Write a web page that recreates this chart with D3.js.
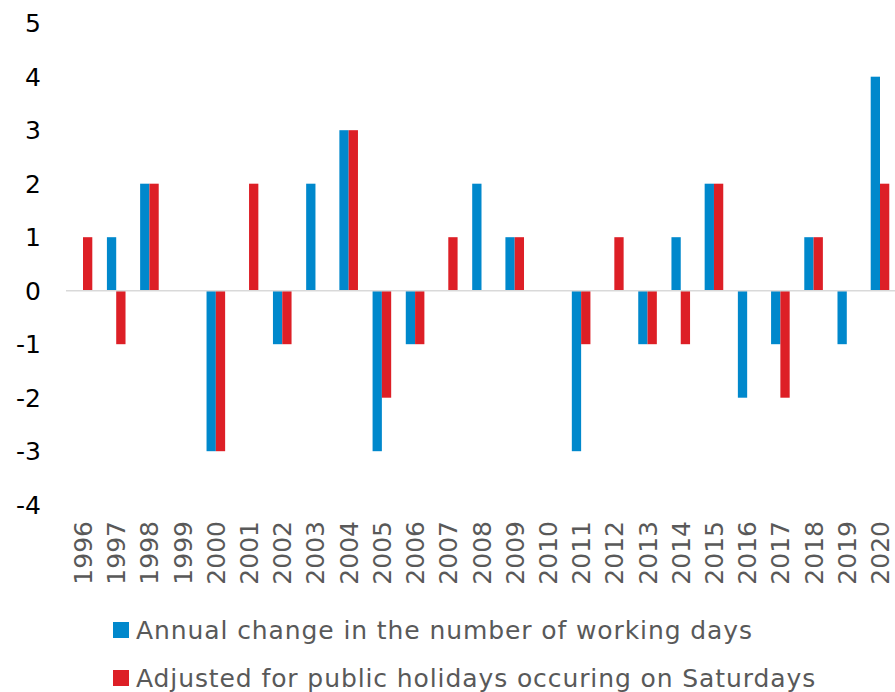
<!DOCTYPE html>
<html lang="en">
<head>
<meta charset="UTF-8">
<script src="https://d3js.org/d3.v7.min.js"></script>
<style>
  body { margin: 0; background: #fff; }
  text { font-family: "DejaVu Sans", Verdana, sans-serif; }
</style>
</head>
<body>
<div id="container"></div>
<script>
    const years = ["1996","1997","1998","1999","2000","2001","2002","2003","2004","2005","2006","2007","2008","2009","2010","2011","2012","2013","2014","2015","2016","2017","2018","2019","2020"];
    const workingDays = [0, 1, 2, 0, -3, 0, -1, 2, 3, -3, -1, 0, 2, 1, 0, -3, 0, -1, 1, 2, -2, -1, 1, -1, 4];
    const adjusted = [1, -1, 2, 0, -3, 2, -1, 0, 3, -2, -1, 1, 0, 1, 0, -1, 1, -1, -1, 2, 0, -2, 1, 0, 2];
    const seriesNames = ["Annual change in the number of working days", "Adjusted for public holidays occuring on Saturdays"];
    const colors = ["#0088cc", "#dd1f26"];
    const yTicks = [5, 4, 3, 2, 1, 0, -1, -2, -3, -4];

    const width = 895, height = 692;
    const svg = d3.select("#container")
        .append("svg")
        .attr("width", width)
        .attr("height", height);

    const data = years.map((d, i) => ({ year: d, values: [workingDays[i], adjusted[i]] }));

    let x0 = d3.scaleBand()
        .domain(years)
        .range([66.4, 896.6])
        .paddingInner(0.44)
        .paddingOuter(0.22);
    let x1 = d3.scaleBand()
        .domain([0, 1])
        .range([0, x0.bandwidth()]);
    let y = d3.scaleLinear()
        .domain([-4, 5])
        .range([504.7, 23.2]);

    // y labels
    svg.append("g")
        .attr("text-anchor", "end")
        .attr("font-size", 25)
        .attr("fill", "#000")
        .selectAll("text")
        .data(yTicks)
        .enter()
        .append("text")
        .attr("x", 41)
        .attr("y", d => y(d))
        .attr("dy", "0.36em")
        .text(d => d);

    // bars
    svg.append("g")
        .selectAll("g")
        .data(data)
        .enter()
        .append("g")
        .attr("transform", d => `translate(${x0(d.year)},0)`)
        .selectAll("rect")
        .data(d => d.values)
        .enter()
        .append("rect")
        .attr("x", (d, i) => x1(i))
        .attr("width", x1.bandwidth())
        .attr("y", d => y(Math.max(0, d)))
        .attr("height", d => Math.abs(y(d) - y(0)))
        .attr("fill", (d, i) => colors[i]);

    // zero line
    svg.append("line")
        .attr("x1", 66)
        .attr("x2", width)
        .attr("y1", y(0))
        .attr("y2", y(0))
        .attr("stroke", "#d9d9d9")
        .attr("stroke-width", 1.5);

    // x labels
    svg.append("g")
        .attr("text-anchor", "end")
        .attr("font-size", 25)
        .attr("fill", "#595959")
        .selectAll("text")
        .data(years)
        .enter()
        .append("text")
        .attr("transform", d => `translate(${x0(d) + x0.bandwidth() / 2},521) rotate(-90)`)
        .attr("dy", "0.36em")
        .text(d => d);

    // legend
    let legend = svg.append("g")
        .selectAll("g")
        .data(seriesNames)
        .enter()
        .append("g")
        .attr("transform", (d, i) => `translate(113,${630 + i * 48})`);
    legend.append("rect")
        .attr("x", 0)
        .attr("y", -8)
        .attr("width", 16)
        .attr("height", 16)
        .attr("fill", (d, i) => colors[i]);
    legend.append("text")
        .attr("x", 23)
        .attr("dy", "0.36em")
        .attr("font-size", 25)
        .attr("letter-spacing", 0.9)
        .attr("fill", "#595959")
        .text(d => d);
</script>
</body>
</html>
